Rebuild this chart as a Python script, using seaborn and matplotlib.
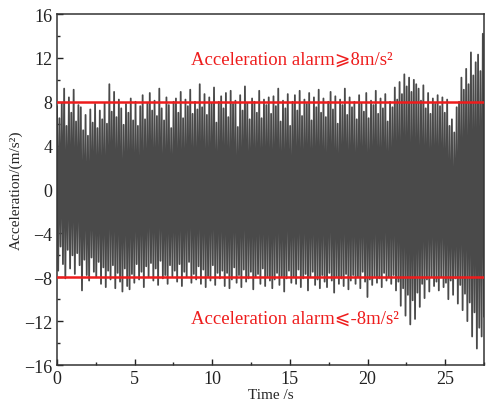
import numpy as np
import pandas as pd
import matplotlib
matplotlib.use("Agg")
import matplotlib.pyplot as plt
import seaborn as sns
from matplotlib.ticker import MultipleLocator

# Positive peaks of each cycle (m/s^2)
upper_peaks = [
    7.6, 6.5, 7.9, 9.2, 5.8, 8.4, 7.0, 9.1, 6.2, 7.7,
    7.5, 5.4, 6.8, 4.9, 7.3, 6.1, 7.8, 5.6, 7.2, 6.4,
    7.9, 6.0, 9.6, 7.1, 8.9, 6.6, 8.2, 7.4, 5.9, 7.8,
    7.0, 8.3, 6.3, 8.0, 5.8, 7.6, 8.6, 6.4, 7.9, 8.8,
    7.2, 8.1, 6.7, 9.2, 7.4, 6.3, 8.4, 7.7, 5.6, 8.0,
    8.3, 7.0, 8.9, 6.5, 8.2, 7.6, 9.1, 6.9, 8.0, 7.3,
    9.6, 7.5, 8.7, 6.8, 8.4, 7.9, 9.3, 6.1, 8.0, 8.5,
    7.4, 8.8, 6.6, 9.0, 7.8, 8.1, 5.7, 8.6, 7.2, 9.4,
    7.9, 6.4, 8.3, 8.0, 7.0, 9.0, 6.5, 8.2, 7.7, 8.4,
    6.9, 8.5, 7.6, 9.2, 6.2, 8.1, 7.4, 8.7, 5.8, 8.0,
    8.6, 7.2, 9.0, 6.7, 8.2, 7.8, 8.8, 6.3, 8.4, 7.5,
    9.1, 7.0, 8.3, 6.6, 8.0, 8.9, 7.3, 8.5, 6.0, 8.2,
    7.7, 9.2, 6.8, 8.4, 7.5, 8.0, 6.4, 8.6, 7.9, 7.1,
    8.8, 6.5, 8.1, 7.7, 9.0, 6.9, 8.3, 7.4, 8.7, 6.2,
    8.0, 7.5, 9.3, 8.2, 9.8, 8.7, 10.5, 9.4, 10.2, 8.9,
    10.0, 9.6, 9.2, 8.1, 9.5, 7.4, 8.8, 6.9, 8.3, 7.8,
    8.6, 7.6, 8.4, 7.0, 8.2, 5.8, 6.4, 5.2, 7.5, 8.0,
    10.2, 9.1, 11.0, 9.6, 12.5, 10.4, 11.6, 12.3, 10.8, 14.2,
]

# Negative peaks of each cycle (m/s^2)
lower_peaks = [
    -7.4, -5.2, -6.8, -8.1, -5.5, -7.2, -6.0, -7.7, -5.8, -6.9,
    -9.2, -6.4, -7.8, -8.3, -6.2, -7.5, -8.0, -6.6, -8.6, -7.1,
    -8.9, -7.4, -8.2, -6.9, -9.0, -7.6, -8.4, -9.3, -7.2, -8.8,
    -9.1, -7.7, -8.5, -6.8, -8.2, -7.5, -8.9, -7.0, -8.0, -6.7,
    -8.3, -7.2, -8.7, -6.5, -8.1, -7.8, -8.6, -6.9, -7.9, -7.4,
    -8.4, -6.8, -8.8, -7.5, -8.0, -6.6, -8.5, -7.7, -8.2, -7.0,
    -8.6, -7.3, -8.9, -7.9, -8.3, -6.9, -8.7, -7.6, -8.1, -7.4,
    -8.8, -7.6, -9.0, -8.2, -7.1, -8.5, -7.8, -8.9, -7.3, -8.4,
    -8.1, -7.5, -9.1, -8.0, -7.7, -8.6, -7.2, -8.8, -7.9, -8.3,
    -9.0, -8.2, -7.6, -8.7, -7.9, -9.3, -8.1, -7.4, -8.5, -8.0,
    -8.6, -7.3, -8.9, -8.1, -7.7, -9.2, -8.0, -7.5, -8.7, -8.2,
    -9.0, -7.8, -8.4, -8.9, -7.6, -8.3, -9.4, -7.9, -8.6, -8.1,
    -8.8, -7.7, -9.1, -8.3, -7.8, -8.6, -8.0, -9.0, -7.5, -8.4,
    -9.8, -8.2, -8.7, -7.9, -8.5, -8.1, -8.9, -7.6, -8.3, -8.0,
    -8.6, -7.8, -9.2, -8.4, -10.6, -9.0, -11.5, -9.6, -12.3, -10.1,
    -11.8, -9.4, -10.7, -8.6, -9.9, -8.2, -9.3, -7.9, -8.8, -8.4,
    -9.2, -8.0, -8.9, -8.5, -10.0, -8.3, -9.6, -8.1, -10.4, -8.7,
    -11.0, -9.5, -12.0, -10.3, -13.4, -11.2, -14.5, -12.6, -13.4, -11.6,
]

duration = 27.5          # s
alarm_level = 8.0        # m/s^2
x_ticks = [0, 5, 10, 15, 20, 25]
y_ticks = [-16, -12, -8, -4, 0, 4, 8, 12, 16]

# Build signal: alternate positive / negative peaks
vals = []
for u, l in zip(upper_peaks, lower_peaks):
    vals.extend([u, l])
n = len(vals)
t = np.arange(n) * (duration / (n - 1))
df = pd.DataFrame({"Time": t, "Acc": vals})

sns.set_style("ticks")
plt.rcParams["font.family"] = ["Liberation Serif", "DejaVu Sans"]

fig = plt.figure(figsize=(4.94, 4.06), dpi=100)
ax = fig.add_axes([0.1154, 0.0985, 0.8644, 0.8645])

sns.lineplot(data=df, x="Time", y="Acc", ax=ax, color="#4a4a4a",
             linewidth=1.3, estimator=None, sort=False)

ax.axhline(alarm_level, color="#ee1c1c", linewidth=1.8, zorder=5)
ax.axhline(-alarm_level, color="#ee1c1c", linewidth=1.8, zorder=5)

ax.text(8.6, 11.9, "Acceleration alarm\u2a7e8m/s\u00b2", color="#ee1c1c",
        fontsize=13.5, ha="left", va="center")
ax.text(8.6, -11.7, "Acceleration alarm\u2a7d-8m/s\u00b2", color="#ee1c1c",
        fontsize=13.5, ha="left", va="center")

ax.set_xlim(0, duration)
ax.set_ylim(-16, 16)
ax.set_xticks(x_ticks)
ax.set_yticks(y_ticks)
ax.xaxis.set_minor_locator(MultipleLocator(2.5))
ax.yaxis.set_minor_locator(MultipleLocator(2))
ax.tick_params(which="major", direction="in", length=4, width=1.0,
               labelsize=13, colors="#222222")
ax.tick_params(which="minor", direction="in", length=2.5, width=1.0)
ax.set_xlabel("Time /s", fontsize=11, labelpad=1)
ax.set_ylabel("Acceleration/(m/s\u00b2)", fontsize=11, labelpad=1)
for s in ax.spines.values():
    s.set_visible(True)
    s.set_linewidth(1.1)
    s.set_color("#333333")

fig.savefig("out.png", dpi=100)
